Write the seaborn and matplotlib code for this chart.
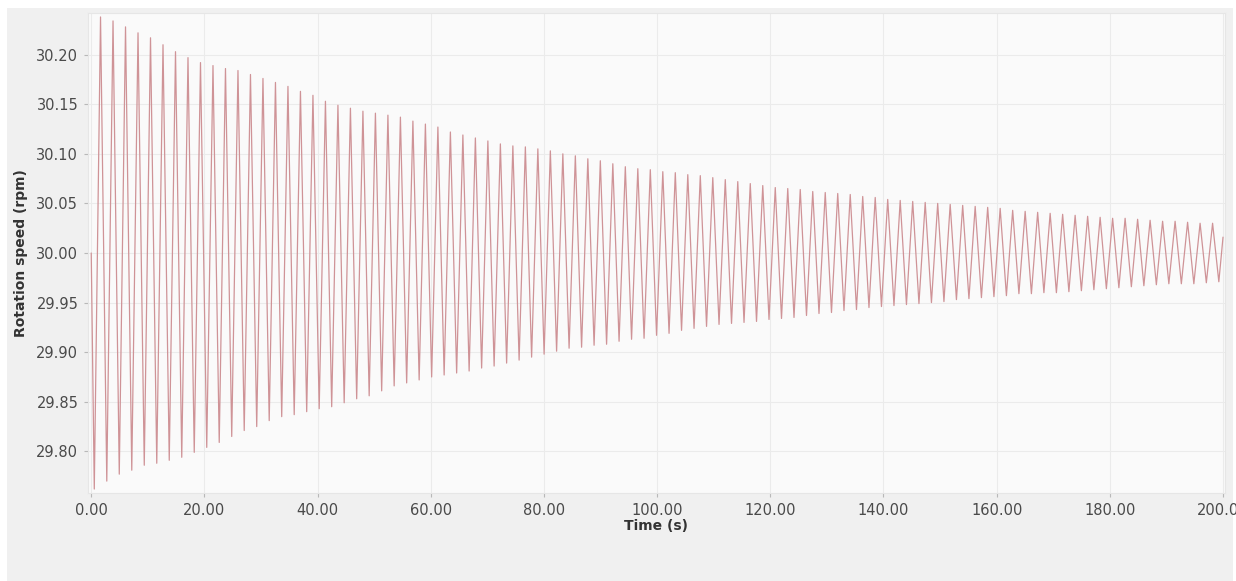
import numpy as np
import pandas as pd
import matplotlib
matplotlib.use("Agg")
import matplotlib.pyplot as plt
from matplotlib.patches import Rectangle
from matplotlib.ticker import FormatStrFormatter
import seaborn as sns

# ---- data ----
# Oscillation timing (sampling grid of the extrema)
period_s = 2.208          # spacing between successive peaks
first_trough_s = 0.54     # time of first trough
start_point = (0.0, 30.00)
end_point = (200.0, 30.016)

# Peak (maximum) values of each cycle, rpm
peak_rpm = [
    30.238, 30.234, 30.228, 30.222, 30.217, 30.210, 30.203, 30.197, 30.192, 30.189,
    30.186, 30.184, 30.180, 30.176, 30.172, 30.168, 30.163, 30.159, 30.153, 30.149,
    30.146, 30.143, 30.141, 30.139, 30.137, 30.133, 30.130, 30.127, 30.122, 30.119,
    30.116, 30.113, 30.110, 30.108, 30.107, 30.105, 30.103, 30.100, 30.098, 30.095,
    30.093, 30.090, 30.087, 30.085, 30.084, 30.082, 30.081, 30.079, 30.078, 30.076,
    30.074, 30.072, 30.070, 30.068, 30.066, 30.065, 30.064, 30.062, 30.061, 30.060,
    30.059, 30.057, 30.056, 30.054, 30.053, 30.052, 30.051, 30.050, 30.049, 30.048,
    30.047, 30.046, 30.045, 30.043, 30.042, 30.041, 30.040, 30.039, 30.038, 30.037,
    30.036, 30.035, 30.035, 30.034, 30.033, 30.032, 30.032, 30.031, 30.030, 30.030,
]

# Trough (minimum) values of each cycle, rpm
trough_rpm = [
    29.762, 29.770, 29.777, 29.781, 29.786, 29.788, 29.791, 29.794, 29.799, 29.804,
    29.809, 29.815, 29.821, 29.825, 29.831, 29.835, 29.837, 29.840, 29.843, 29.845,
    29.849, 29.853, 29.856, 29.861, 29.866, 29.869, 29.872, 29.875, 29.877, 29.879,
    29.881, 29.884, 29.886, 29.889, 29.892, 29.895, 29.898, 29.901, 29.904, 29.905,
    29.907, 29.908, 29.911, 29.913, 29.914, 29.917, 29.919, 29.922, 29.924, 29.926,
    29.928, 29.929, 29.930, 29.931, 29.933, 29.934, 29.935, 29.937, 29.939, 29.940,
    29.942, 29.943, 29.945, 29.946, 29.947, 29.948, 29.949, 29.950, 29.951, 29.953,
    29.954, 29.955, 29.956, 29.957, 29.959, 29.959, 29.960, 29.960, 29.961, 29.962,
    29.963, 29.964, 29.965, 29.966, 29.967, 29.968, 29.969, 29.969, 29.969, 29.970,
    29.971,
]

x_ticks = [0, 20, 40, 60, 80, 100, 120, 140, 160, 180, 200]
y_ticks = [29.80, 29.85, 29.90, 29.95, 30.00, 30.05, 30.10, 30.15, 30.20]

# ---- build the series (trough, peak, trough, ... ) ----
times = [start_point[0]]
values = [start_point[1]]
for k in range(len(trough_rpm)):
    t_tr = first_trough_s + k * period_s
    times.append(t_tr)
    values.append(trough_rpm[k])
    if k < len(peak_rpm):
        times.append(t_tr + period_s / 2)
        values.append(peak_rpm[k])
times.append(end_point[0])
values.append(end_point[1])
df = pd.DataFrame({"Time (s)": times, "Rotation speed (rpm)": values})

# ---- plot ----
sns.set_theme(style="whitegrid")
plt.rcParams["font.family"] = ["DejaVu Sans"]

fig = plt.figure(figsize=(12.36, 5.81), dpi=100)
fig.patch.set_facecolor("white")
panel = Rectangle((7 / 1236, 0), 1 - 10 / 1236, 1 - 8 / 581,
                  transform=fig.transFigure, facecolor="#f0f0f0",
                  edgecolor="none", zorder=-10)
fig.add_artist(panel)

ax = fig.add_axes([88 / 1236, 1 - 493 / 581, (1225 - 88) / 1236, (493 - 13) / 581])
ax.set_zorder(1)
ax.set_facecolor("#fafafa")

sns.lineplot(data=df, x="Time (s)", y="Rotation speed (rpm)", ax=ax,
             color="#cf9397", linewidth=0.9, estimator=None, sort=False)

ax.set_xlim(-0.57, 200.35)
ax.set_ylim(29.758, 30.242)
ax.set_xticks(x_ticks)
ax.set_yticks(y_ticks)
ax.xaxis.set_major_formatter(FormatStrFormatter("%.2f"))
ax.yaxis.set_major_formatter(FormatStrFormatter("%.2f"))

ax.grid(True, color="#ebebeb", linewidth=0.8)
for s in ax.spines.values():
    s.set_visible(True)
    s.set_color("#e6e6e6")
    s.set_linewidth(0.8)

ax.tick_params(axis="both", which="major", labelsize=10.5, labelcolor="#4a4a4a",
               color="#b8b8b8", length=3, width=0.8, pad=4,
               bottom=True, left=True)

ax.set_xlabel("Time (s)", fontsize=10, fontweight="bold", color="#333333", labelpad=1)
ax.set_ylabel("Rotation speed (rpm)", fontsize=10, fontweight="bold", color="#333333", labelpad=6)

fig.savefig("out.png", dpi=100, facecolor=fig.get_facecolor())
